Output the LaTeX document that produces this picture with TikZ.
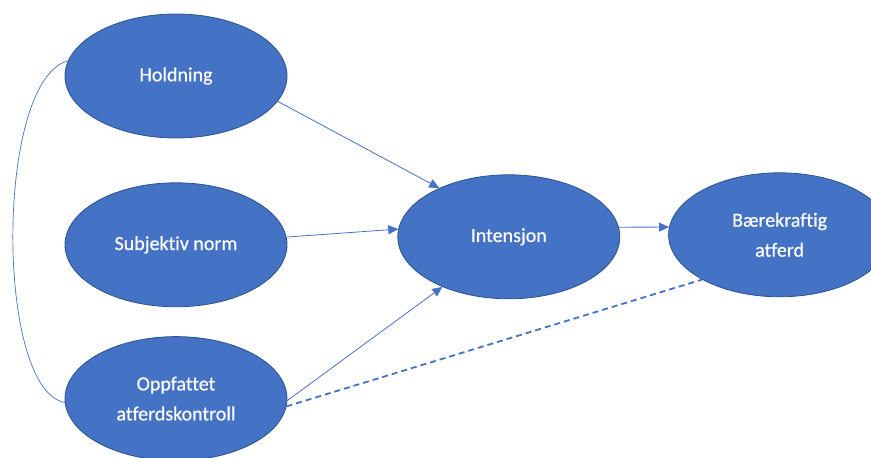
\documentclass[tikz,border=0pt]{standalone}
\usepackage{fontspec}
\setmainfont[Ligatures=NoCommon, FakeBold=0.5]{Carlito}
\usetikzlibrary{positioning,shapes.geometric,arrows.meta}
\definecolor{fillblue}{HTML}{4472C4}
\definecolor{edgeblue}{HTML}{2F528F}
\tikzset{
  el/.style={ellipse, minimum width=222pt, minimum height=124pt, inner sep=0pt, text centered, align=center, draw=edgeblue, line width=0.8pt, fill=fillblue, text=white, font=\fontsize{20}{30}\selectfont},
  pil/.style={draw=fillblue, line width=0.8pt, -{Triangle[length=10pt,width=9pt]}},
  lnk/.style={draw=fillblue, line width=0.7pt},
  dsh/.style={draw=fillblue, line width=1.8pt, dash pattern=on 6pt off 4pt}
}
\begin{document}
\begin{tikzpicture}[x=1pt,y=-1pt]
	\useasboundingbox (0,0) rectangle (871,458);
	\node[el] (hold) at (176,76) {Holdning};
	\node[el, below=44pt of hold] (subj) {Subjektiv norm};
	\node[el, below=29pt of subj] (opp) {Oppfattet\\atferdskontroll};
	\node[el, right=110pt of subj, yshift=8pt] (int) {Intensjon};
	\node[el, right=48pt of int, yshift=2pt] (bk) {Bærekraftig\\atferd};
	%
	\draw[pil] (hold.-14) -- (int.145);
	\draw[pil] (subj.4) -- (int.176);
	\draw[pil] (opp.-1) -- (int.-143);
	\draw[pil] (int.5) -- (bk.176);
	\draw[dsh] (opp.-4) -- (bk.210);
	\draw[lnk] (hold.172) .. controls (-5,80) and (-5,390) .. (opp.182);
\end{tikzpicture}
\end{document}
